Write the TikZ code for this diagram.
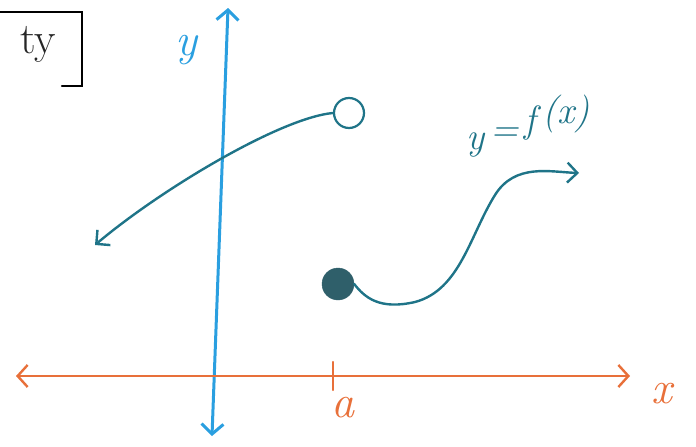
\documentclass[tikz,border=0pt]{standalone}
\usetikzlibrary{arrows.meta}
\definecolor{axisblue}{HTML}{2A9FE0}
\definecolor{axisorange}{HTML}{E8703A}
\definecolor{curveteal}{HTML}{1F7488}
\definecolor{dotteal}{HTML}{2F5F6A}
\begin{document}
\begin{tikzpicture}[x=1pt,y=-1pt,
  bluepen/.style={draw=axisblue,line width=3pt,line cap=round},
  orangepen/.style={draw=axisorange,line width=2.4pt,line cap=round},
  tealpen/.style={draw=curveteal,line width=2.4pt,line cap=round},
  opentip/.style={-{Straight Barb[length=10pt,width=20pt]}},
  lbl/.style={font=\itshape\fontsize{46}{46}\selectfont,inner sep=0pt},
  flbl/.style={inner sep=0pt,anchor=base west,text=curveteal,font=\itshape\fontsize{38}{38}\selectfont}]
\useasboundingbox (0,0) rectangle (696,447);
% partial box top-left
\coordinate (b1) at (0,12);
\coordinate (b2) at (82,12);
\coordinate (b3) at (82,86);
\coordinate (b4) at (62,86);
\draw[line width=2.4pt,line cap=round] (b1) -- (b2) -- (b3) -- (b4);
\node[inner sep=0pt,font=\fontsize{44}{44}\selectfont,text=black!85] (boxtext) at (38,44) {ty};
% axes
\coordinate (ybot) at (212,436);
\coordinate (ytop) at (228,8);
\draw[bluepen,{Straight Barb[length=10pt,width=22pt]}-{Straight Barb[length=10pt,width=22pt]}] (ybot) -- (ytop);
\node[lbl,text=axisblue] (ylab) at (186,50) {y};
\coordinate (xl) at (16,376);
\coordinate (xr) at (630,376);
\draw[orangepen,{Straight Barb[length=10pt,width=22pt]}-{Straight Barb[length=10pt,width=22pt]}] (xl) -- (xr);
\node[lbl,text=axisorange] (xlab) at (662,394) {x};
\coordinate (ta) at (333,362);
\coordinate (tb) at (333,390);
\draw[orangepen] (ta) -- (tb);
\node[lbl,text=axisorange] (alab) at (343,408) {a};
% left curve with open circle
\node[circle,draw=curveteal,line width=2.2pt,minimum size=30pt,inner sep=0pt,fill=white] (open) at (349,113) {};
\coordinate (lend) at (95,245);
\draw[tealpen,opentip] (open.west) .. controls (280,118) and (160,190) .. (lend);
% right curve with filled dot
\node[circle,draw=dotteal,fill=dotteal,minimum size=32pt,inner sep=0pt] (closed) at (338,284) {};
\coordinate (rend) at (579,173);
\coordinate (rmid) at (495,195);
\draw[tealpen] (closed.east) .. controls (365,298) and (380,310) .. (415,302)
  .. controls (460,290) and (470,235) .. (rmid);
\draw[tealpen,opentip] (rmid) .. controls (515,163) and (550,172) .. (rend);
% label y = f(x), rising to the right
\node[flbl] (f1) at (466,149) {y};
\node[flbl] (f2) at (490,141) {=};
\node[flbl] (f3) at (524,132) {f};
\node[flbl] (f4) at (542,123) {(x)};
\end{tikzpicture}
\end{document}
